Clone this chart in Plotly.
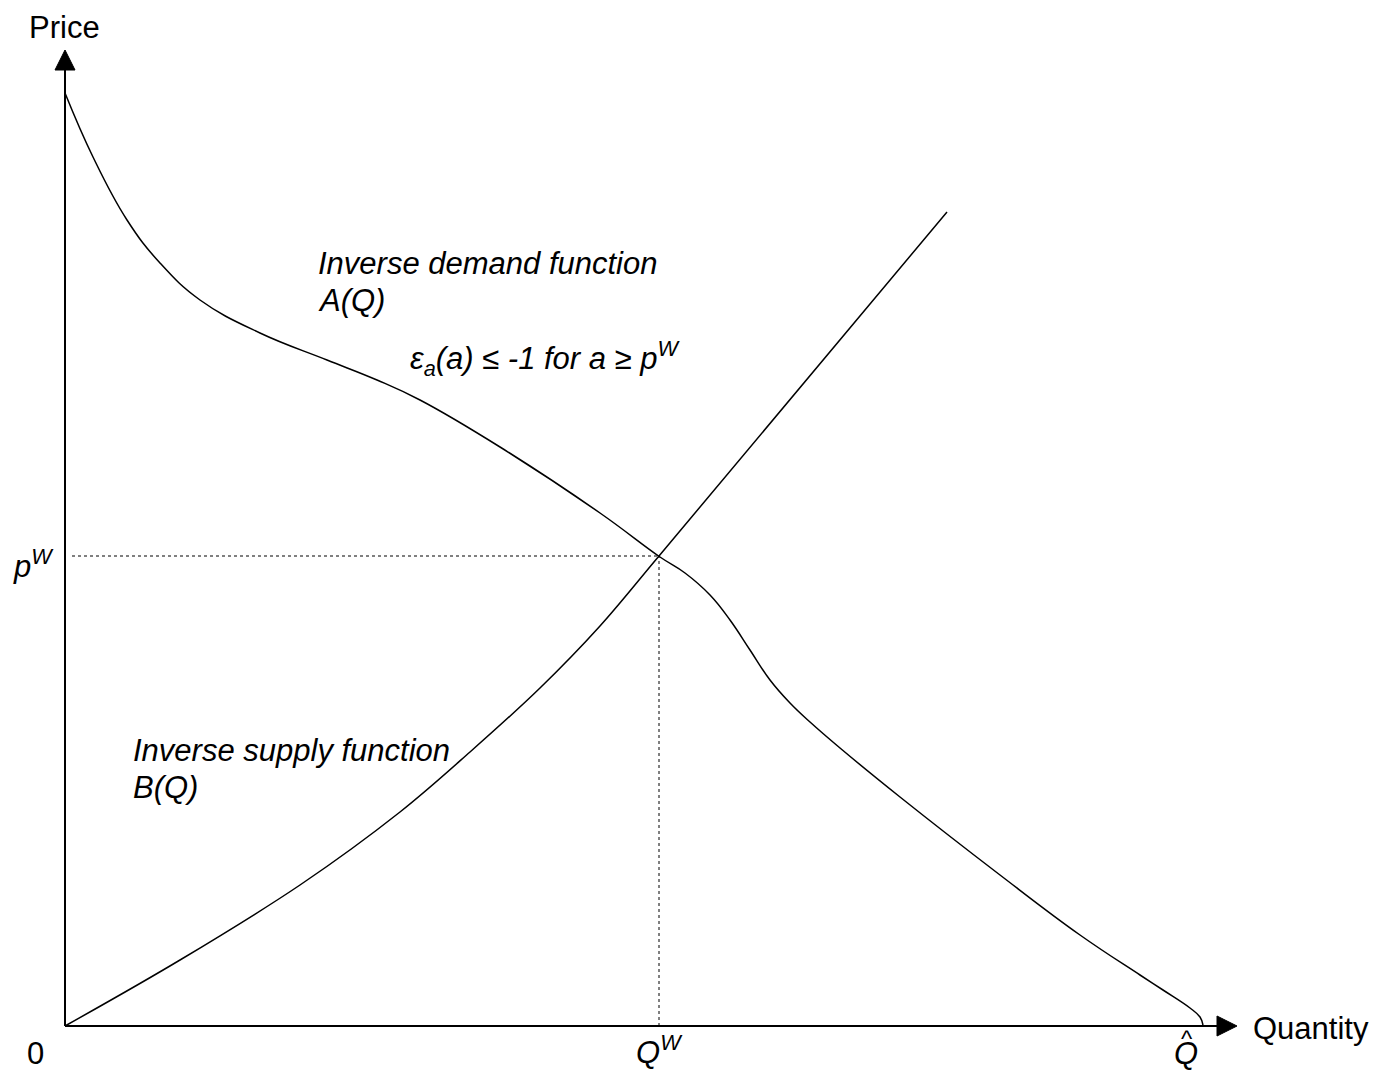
import plotly.graph_objects as go

# Coordinates: quantity / price units measured from origin (arbitrary units)
demand_q = [0, 28, 62, 95, 135, 195, 262, 312, 355, 435, 535, 595, 620, 645, 665, 685, 705, 725, 745, 775, 835, 935, 1015, 1075, 1098, 1125, 1135, 1138]
demand_p = [933, 869, 806, 763, 726, 693, 666, 646, 626, 579, 513, 469, 453, 431, 406, 376, 346, 323, 304, 278, 229, 151, 91, 51, 36, 18, 9, 1]

supply_q = [0, 115, 235, 335, 405, 475, 535, 594, 882]
supply_p = [0, 66, 141, 214, 274, 338, 400, 470, 814]

q_w = 594
p_w = 470
q_hat = 1138

FONT = "Liberation Sans, Arial, Helvetica, sans-serif"

fig = go.Figure()
fig.add_trace(go.Scatter(x=demand_q, y=demand_p, mode="lines",
                         line=dict(color="black", width=1.5, shape="spline", smoothing=1.2), hoverinfo="skip"))
fig.add_trace(go.Scatter(x=supply_q, y=supply_p, mode="lines",
                         line=dict(color="black", width=1.5, shape="spline", smoothing=1.0), hoverinfo="skip"))

shapes = [
    dict(type="line", x0=0, y0=0, x1=0, y1=960, line=dict(color="black", width=2)),
    dict(type="line", x0=0, y0=0, x1=1160, y1=0, line=dict(color="black", width=2)),
    dict(type="path", path="M -10,956 L 10,956 L 0,976 Z", fillcolor="black", line=dict(color="black", width=1)),
    dict(type="path", path="M 1152,10 L 1152,-10 L 1172,0 Z", fillcolor="black", line=dict(color="black", width=1)),
    dict(type="line", x0=7, y0=p_w, x1=q_w, y1=p_w, line=dict(color="black", width=1, dash="dot")),
    dict(type="line", x0=q_w, y0=0, x1=q_w, y1=p_w, line=dict(color="black", width=1, dash="dot")),
]
for s in shapes:
    s["xref"] = "x"; s["yref"] = "y"
    s["layer"] = "above"

def ann(x, y, text, size=31, italic=False, xanchor="left"):
    return dict(x=x, y=y, xref="x", yref="y", text=text, showarrow=False,
                xanchor=xanchor, yanchor="middle",
                font=dict(family=FONT, size=size, color="black", style="italic" if italic else "normal"))

annotations = [
    ann(-1, 999, "Price", xanchor="center"),
    ann(1186, -2, "Quantity"),
    ann(-30, -27, "0", xanchor="center"),
    ann(-32, 462, "p<sup>W</sup>", italic=True, xanchor="center"),
    ann(q_w, -24, "Q<sup>W</sup>", italic=True, xanchor="center"),
    ann(q_hat - 17, -27, "Q", italic=True, xanchor="center"),
    ann(q_hat - 16, -12, "^", size=24, xanchor="center"),
    ann(251, 763, "Inverse demand function", italic=True),
    ann(251, 726, "A(Q)", italic=True),
    ann(343, 668, "ε<sub>a</sub>(a) ≤ -1 for a ≥ p<sup>W</sup>", italic=True),
    ann(66, 276, "Inverse supply function", italic=True),
    ann(66, 239, "B(Q)", italic=True),
]

fig.update_layout(
    width=1375, height=1070,
    margin=dict(l=0, r=0, t=0, b=0),
    paper_bgcolor="white", plot_bgcolor="white",
    showlegend=False,
    xaxis=dict(range=[-65, 1310], visible=False, fixedrange=True),
    yaxis=dict(range=[-44, 1026], visible=False, fixedrange=True),
    shapes=shapes, annotations=annotations,
)
fig.write_html("out.html", config={"displayModeBar": False},
               post_script="document.body.style.margin='0';document.documentElement.style.overflow='hidden';")
